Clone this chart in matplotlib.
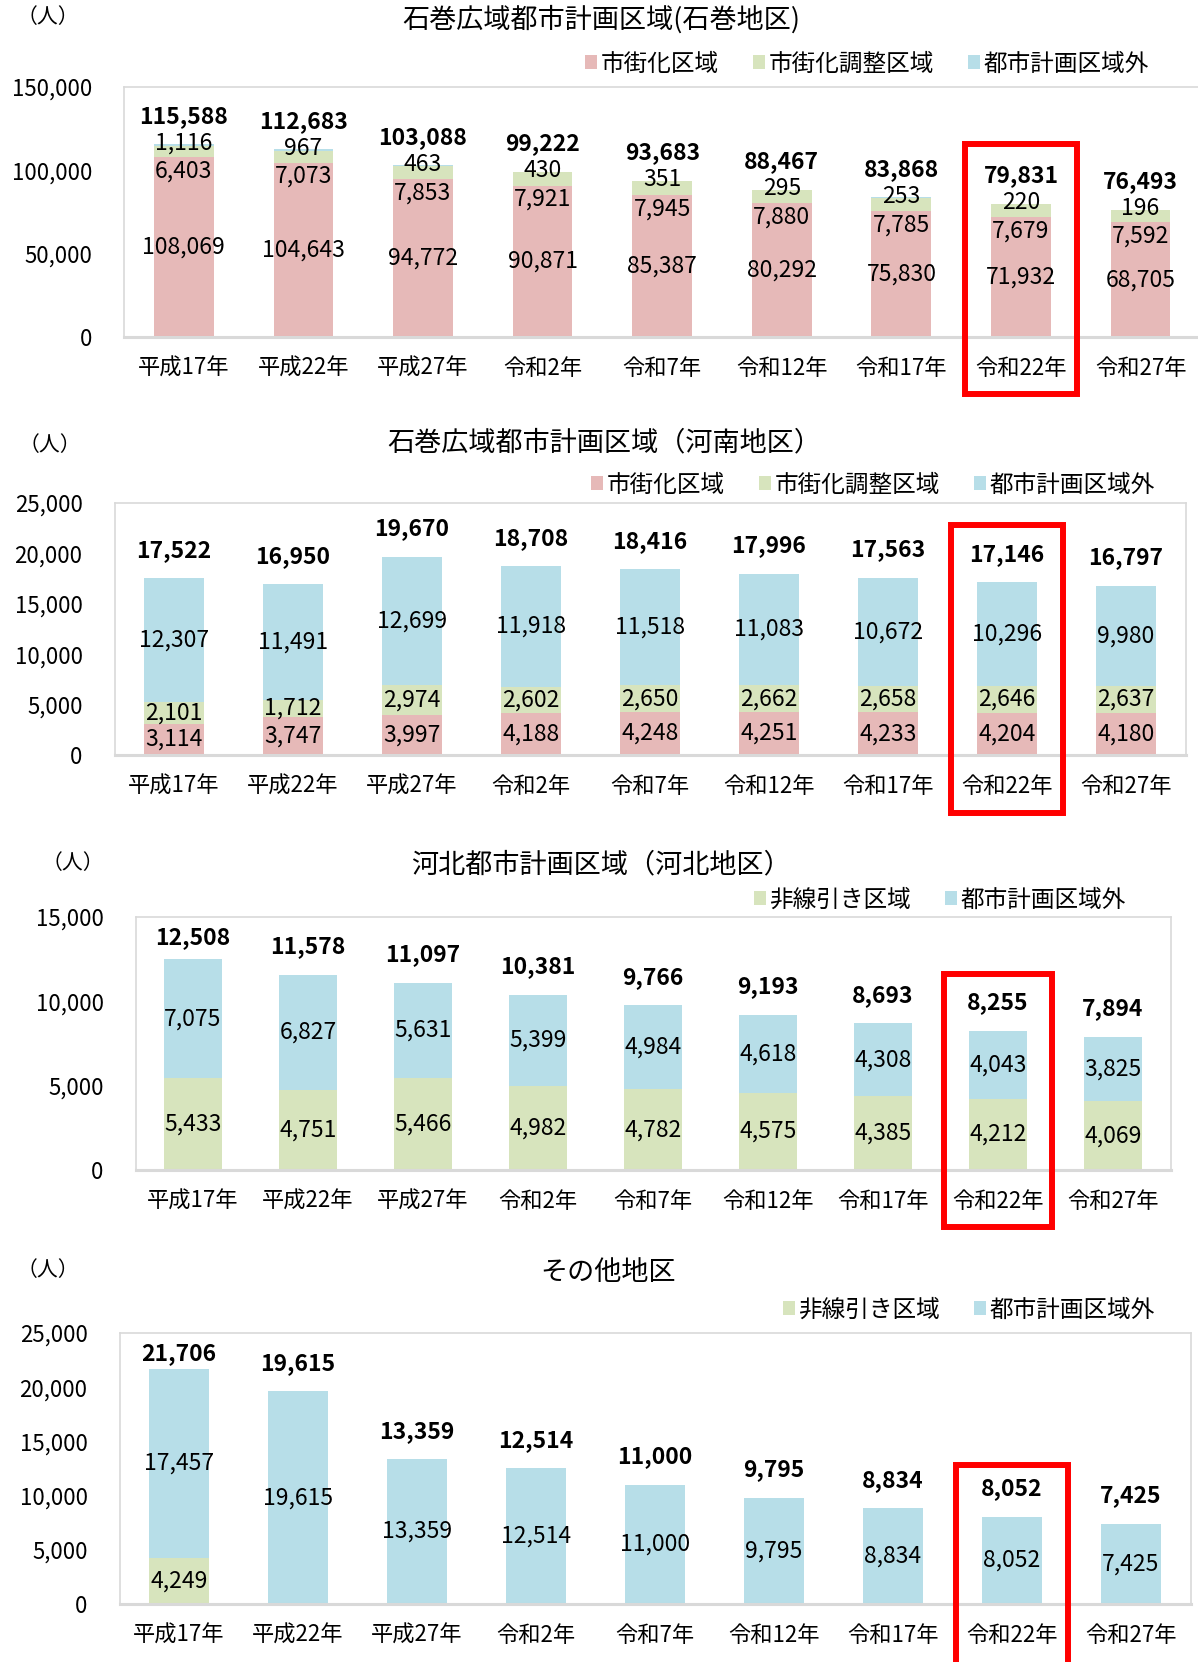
import numpy as np
import matplotlib
matplotlib.use("Agg")
import matplotlib.pyplot as plt
import matplotlib.transforms as mtransforms
from matplotlib.patches import Rectangle
from matplotlib.ticker import FuncFormatter, MultipleLocator

plt.rcParams['font.family'] = ['Noto Sans CJK JP', 'DejaVu Sans']

# ---- data ----
years = ['平成17年', '平成22年', '平成27年', '令和2年', '令和7年',
         '令和12年', '令和17年', '令和22年', '令和27年']

# 石巻地区
ishi_shigaika = [108069, 104643, 94772, 90871, 85387, 80292, 75830, 71932, 68705]
ishi_chosei = [6403, 7073, 7853, 7921, 7945, 7880, 7785, 7679, 7592]
ishi_gai = [1116, 967, 463, 430, 351, 295, 253, 220, 196]

# 河南地区
kanan_shigaika = [3114, 3747, 3997, 4188, 4248, 4251, 4233, 4204, 4180]
kanan_chosei = [2101, 1712, 2974, 2602, 2650, 2662, 2658, 2646, 2637]
kanan_gai = [12307, 11491, 12699, 11918, 11518, 11083, 10672, 10296, 9980]

# 河北地区
kahoku_hisen = [5433, 4751, 5466, 4982, 4782, 4575, 4385, 4212, 4069]
kahoku_gai = [7075, 6827, 5631, 5399, 4984, 4618, 4308, 4043, 3825]

# その他地区
sonota_hisen = [4249, 0, 0, 0, 0, 0, 0, 0, 0]
sonota_gai = [17457, 19615, 13359, 12514, 11000, 9795, 8834, 8052, 7425]

PINK = '#E6B9B8'
GREEN = '#D7E4BD'
BLUE = '#B7DEE8'
GRID = '#D9D9D9'
RED = '#FF0000'

W, H = 1198, 1662
fig = plt.figure(figsize=(W / 100, H / 100), dpi=100)

charts = [
    dict(title='石巻広域都市計画区域(石巻地区)', title_xy=(601, 20), unit_xy=(48, 17),
         box=(124, 87, 124 + 9 * 119.6, 337), ymax=150000, step=50000,
         series=[(ishi_shigaika, PINK, '市街化区域'),
                 (ishi_chosei, GREEN, '市街化調整区域'),
                 (ishi_gai, BLUE, '都市計画区域外')],
         legend_xy=(867, 64), red=(0.772, -0.228), shifted=True),
    dict(title='石巻広域都市計画区域（河南地区）', title_xy=(604, 443), unit_xy=(50, 445),
         box=(114.5, 503, 1185.5, 755), ymax=25000, step=5000,
         series=[(kanan_shigaika, PINK, '市街化区域'),
                 (kanan_chosei, GREEN, '市街化調整区域'),
                 (kanan_gai, BLUE, '都市計画区域外')],
         legend_xy=(873, 485), red=(0.913, -0.230), shifted=False),
    dict(title='河北都市計画区域（河北地区）', title_xy=(601, 865), unit_xy=(73, 863),
         box=(135.5, 917, 1170.5, 1170), ymax=15000, step=5000,
         series=[(kahoku_hisen, GREEN, '非線引き区域'),
                 (kahoku_gai, BLUE, '都市計画区域外')],
         legend_xy=(940, 900), red=(0.775, -0.225), shifted=False),
    dict(title='その他地区', title_xy=(608, 1273), unit_xy=(48, 1270),
         box=(119.5, 1333, 1190.5, 1604), ymax=25000, step=5000,
         series=[(sonota_hisen, GREEN, '非線引き区域'),
                 (sonota_gai, BLUE, '都市計画区域外')],
         legend_xy=(969, 1310), red=(0.513, -0.3), shifted=False),
]

x = np.arange(len(years))

for c in charts:
    left, top, right, bottom = c['box']
    ax = fig.add_axes([left / W, 1 - bottom / H, (right - left) / W, (bottom - top) / H])
    ymax = c['ymax']
    px = ymax / (bottom - top)   # data units per pixel

    base = np.zeros(len(years))
    bases = []
    for vals, color, name in c['series']:
        vals = np.array(vals, dtype=float)
        ax.bar(x, vals, 0.5, bottom=base, color=color, label=name, linewidth=0)
        bases.append(base.copy())
        base = base + vals
    totals = base

    # segment labels
    for k, (vals, color, name) in enumerate(c['series']):
        for i, v in enumerate(vals):
            if v == 0:
                continue
            if c['shifted'] and k == 1:
                y = bases[k][i] - 14 * px
            elif c['shifted'] and k == 2:
                y = totals[i] + 1 * px
            else:
                y = bases[k][i] + v / 2
            ax.text(i, y, f'{v:,}', ha='center', va='center', fontsize=16.5,
                    color='black')
    # totals
    for i, t in enumerate(totals):
        y = min(t + 28 * px, ymax - 21 * px)
        ax.text(i, y, f'{int(t):,}', ha='center', va='center', fontsize=16.5,
                fontweight='bold', color='black')

    ax.set_xlim(-0.5, len(years) - 0.5)
    ax.set_ylim(0, ymax)
    ax.yaxis.set_major_locator(MultipleLocator(c['step']))
    ax.yaxis.set_major_formatter(FuncFormatter(lambda v, p: f'{int(v):,}'))
    ax.set_xticks(x, years)
    ax.tick_params(axis='x', length=0, pad=14.5, labelsize=16)
    ax.tick_params(axis='y', length=0, pad=23, labelsize=16)
    for side in ['top', 'left', 'right']:
        ax.spines[side].set_color(GRID)
        ax.spines[side].set_linewidth(1.2)
    ax.spines['bottom'].set_color(GRID)
    ax.spines['bottom'].set_linewidth(2.2)

    ax.legend(loc='center', bbox_to_anchor=(c['legend_xy'][0] / W, 1 - c['legend_xy'][1] / H),
              bbox_transform=fig.transFigure, ncol=len(c['series']), frameon=False,
              fontsize=17, handlelength=0.5, handleheight=0.5, handletextpad=0.15,
              columnspacing=1.45, borderpad=0)

    # highlight 令和22年
    trans = mtransforms.blended_transform_factory(ax.transData, ax.transAxes)
    ytop, ybot = c['red']
    ax.add_patch(Rectangle((6.53, ybot), 0.94, ytop - ybot, transform=trans,
                           fill=False, edgecolor=RED, linewidth=4.3, clip_on=False,
                           zorder=5))

    fig.text(c['title_xy'][0] / W, 1 - c['title_xy'][1] / H, c['title'],
             ha='center', va='center', fontsize=19.5)
    fig.text(c['unit_xy'][0] / W, 1 - c['unit_xy'][1] / H, '（人）',
             ha='center', va='center', fontsize=15)

fig.savefig('out.png', dpi=100)
